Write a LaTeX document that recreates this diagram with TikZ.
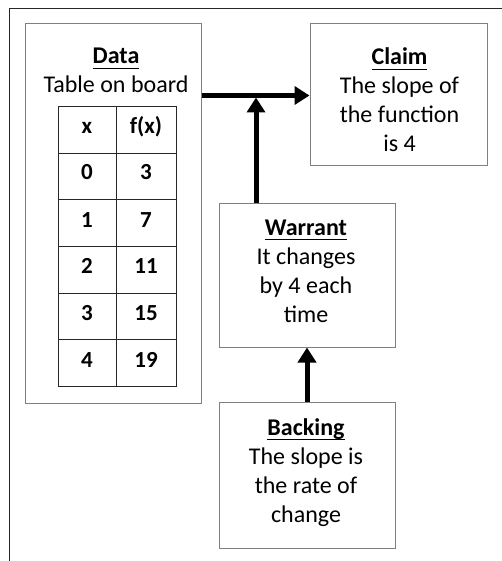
\documentclass[tikz,border=0pt]{standalone}
\usepackage{fontspec}
\setmainfont{Carlito}
\usetikzlibrary{arrows.meta}
\definecolor{boxgray}{HTML}{808080}
\definecolor{framegray}{HTML}{262626}
\newcommand{\hdline}[1]{\setbox0\hbox{\bfseries #1}\rlap{\copy0}\rule[-5pt]{\wd0}{1.2pt}}
\tikzset{
  box/.style={draw=boxgray, line width=1pt, inner sep=0pt},
  txt/.style={anchor=base, inner sep=0pt, font=\fontsize{24}{29}\selectfont},
  cell/.style={anchor=base, inner sep=0pt, font=\fontsize{23}{29}\selectfont\bfseries},
  flow/.style={line width=5pt, -{Triangle[length=15pt,width=18pt]}},
  grid/.style={draw=framegray, line width=0.9pt}
}
\begin{document}
\begin{tikzpicture}[x=1pt, y=-1pt]
\useasboundingbox (0,0) rectangle (502,561);
% outer frame (left and top edges)
\draw[framegray, line width=1.2pt] (9.5,561) -- (9.5,8.5) -- (502,8.5);

% boxes
\node[box, minimum width=176pt, minimum height=379pt] (data) at (113,213.5) {};
\node[box, minimum width=177pt, minimum height=142pt] (claim) at (398.5,95) {};
\node[box, minimum width=176pt, minimum height=144pt] (warrant) at (307,275) {};
\node[box, minimum width=176pt, minimum height=146pt] (backing) at (307,475) {};

% Data text
\node[txt] (dt) at (116,64) {\hdline{Data}};
\node[txt] (d1) at (116,93) {Table on board};

% value table
\draw[grid] (58,106) rectangle (176,386);
\draw[grid] (116,106) -- (116,386);
\foreach \yy in {153,199.5,246.5,293,339.5} \draw[grid] (58,\yy) -- (176,\yy);
\node[cell] (hx) at (87,134) {x};
\node[cell] (hf) at (146,134) {f(x)};
\node[cell] (x0) at (87,179) {0};  \node[cell] (f0) at (146,179) {3};
\node[cell] (x1) at (87,227) {1};  \node[cell] (f1) at (146,227) {7};
\node[cell] (x2) at (87,273) {2};  \node[cell] (f2) at (146,273) {11};
\node[cell] (x3) at (87,320) {3};  \node[cell] (f3) at (146,320) {15};
\node[cell] (x4) at (87,367) {4};  \node[cell] (f4) at (146,367) {19};

% Claim text
\node[txt] (ct) at (399.5,65) {\hdline{Claim}};
\node[txt] (c1) at (399.5,94) {The slope of};
\node[txt] (c2) at (399.5,123) {the function};
\node[txt] (c3) at (399.5,152) {is 4};

% Warrant text
\node[txt] (wt) at (306,235) {\hdline{Warrant}};
\node[txt] (w1) at (306,264) {It changes};
\node[txt] (w2) at (306,293) {by 4 each};
\node[txt] (w3) at (306,322) {time};

% Backing text
\node[txt] (bt) at (306,435) {\hdline{Backing}};
\node[txt] (b1) at (306,464) {The slope is};
\node[txt] (b2) at (306,493) {the rate of};
\node[txt] (b3) at (306,522) {change};

% connectors
\coordinate (j) at (256,95.5);
\coordinate (jt) at (256,97.5);
\draw[flow] (data.east |- j) -- (claim.west |- j);
\draw[flow] (j |- warrant.north) -- (jt);
\draw[flow] (backing.north) -- (warrant.south);
\end{tikzpicture}
\end{document}
